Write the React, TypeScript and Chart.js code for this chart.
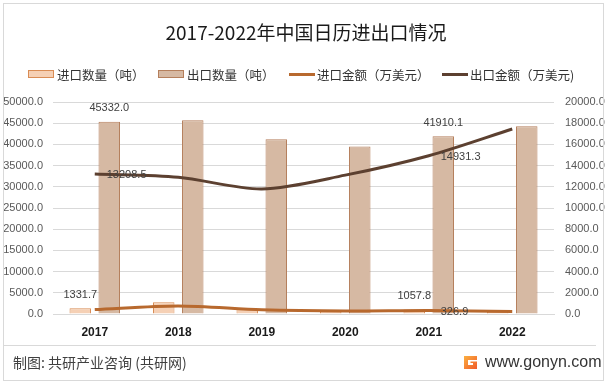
import React, { useEffect, useRef } from "react";
import { Chart, registerables } from "chart.js";

Chart.register(...registerables);

const years = ["2017", "2018", "2019", "2020", "2021", "2022"];
const importQty = [1331.7, 2750, 1150, 600, 1057.8, 450];
const exportQty = [45332.0, 45700, 41200, 39500, 41910.1, 44300];
const importAmt = [420, 760, 400, 280, 326.9, 240];
const exportAmt = [13208.5, 12900, 11800, 13100, 14931.3, 17450];

const importQtyLabelIdx = [0, 4];
const exportQtyLabelIdx = [0, 4];
const importAmtLabelIdx = [4];
const exportAmtLabelIdx = [0, 4];

const seriesNames = ["进口数量（吨）", "出口数量（吨）", "进口金额（万美元）", "出口金额（万美元)"];

const C_IMP_BAR = "#f5d0b5";
const C_IMP_BAR_B = "#d98c55";
const C_EXP_BAR = "#d6b9a3";
const C_EXP_BAR_B = "#b57f5c";
const C_IMP_LINE = "#b8692e";
const C_EXP_LINE = "#5c4030";

const LATIN = "'Liberation Sans', Arial, sans-serif";
const CJK = "'Noto Sans CJK SC', 'Noto Sans', sans-serif";

const labelPlugin = {
  id: "valueLabels",
  afterDatasetsDraw(chart: any) {
    const ctx = chart.ctx;
    ctx.save();
    ctx.font = `11px ${LATIN}`;
    ctx.fillStyle = "#404040";
    ctx.textBaseline = "middle";
    chart.data.datasets.forEach((ds: any, di: number) => {
      const meta = chart.getDatasetMeta(di);
      (ds.labelIdx || []).forEach((i: number) => {
        const el = meta.data[i];
        if (!el) return;
        const txt = Number(ds.data[i]).toFixed(1);
        if (ds.type === "bar") {
          ctx.textAlign = "center";
          ctx.fillText(txt, el.x, el.y - 13.5);
        } else {
          ctx.textAlign = "left";
          ctx.fillText(txt, el.x + 12, el.y + 1);
        }
      });
    });
    ctx.restore();
  },
};

export default function App() {
  const ref = useRef<HTMLCanvasElement | null>(null);
  useEffect(() => {
    if (!ref.current) return;
    const chart = new Chart(ref.current, {
      type: "bar",
      data: {
        labels: years,
        datasets: [
          {
            type: "bar",
            label: seriesNames[0],
            data: importQty,
            backgroundColor: C_IMP_BAR,
            borderColor: C_IMP_BAR_B,
            borderWidth: 1,
            yAxisID: "y",
            order: 2,
            categoryPercentage: 0.695,
            barPercentage: 0.74,
            labelIdx: importQtyLabelIdx,
          } as any,
          {
            type: "bar",
            label: seriesNames[1],
            data: exportQty,
            backgroundColor: C_EXP_BAR,
            borderColor: C_EXP_BAR_B,
            borderWidth: 1,
            yAxisID: "y",
            order: 2,
            categoryPercentage: 0.695,
            barPercentage: 0.74,
            labelIdx: exportQtyLabelIdx,
          } as any,
          {
            type: "line",
            label: seriesNames[2],
            data: importAmt,
            borderColor: C_IMP_LINE,
            backgroundColor: C_IMP_LINE,
            borderWidth: 3,
            pointRadius: 0,
            tension: 0.3,
            yAxisID: "y1",
            order: 1,
            labelIdx: importAmtLabelIdx,
          } as any,
          {
            type: "line",
            label: seriesNames[3],
            data: exportAmt,
            borderColor: C_EXP_LINE,
            backgroundColor: C_EXP_LINE,
            borderWidth: 3,
            pointRadius: 0,
            tension: 0.3,
            yAxisID: "y1",
            order: 1,
            labelIdx: exportAmtLabelIdx,
          } as any,
        ],
      },
      options: {
        responsive: false,
        animation: false,
        devicePixelRatio: 1,
        layout: { padding: { top: 102, left: 0, right: 0, bottom: 0 } },
        plugins: {
          legend: { display: false },
          title: { display: false },
          tooltip: { enabled: false },
        },
        scales: {
          x: {
            grid: { display: false, drawTicks: false },
            border: { display: true, color: "#d9d9d9" },
            ticks: {
              font: { size: 12, weight: "bold", family: LATIN },
              color: "#1a1a1a",
              padding: 11,
            },
            afterFit: (s: any) => {
              s.height = 72;
            },
          },
          y: {
            position: "left",
            min: 0,
            max: 50000,
            grid: { color: "#d9d9d9", drawTicks: false },
            border: { display: false },
            ticks: {
              stepSize: 5000,
              padding: 10,
              font: { size: 11, family: LATIN },
              color: "#595959",
              callback: (v: any) => Number(v).toFixed(1),
            },
            afterFit: (s: any) => {
              s.width = 53;
            },
          },
          y1: {
            position: "right",
            min: 0,
            max: 20000,
            grid: { display: false, drawTicks: false },
            border: { display: false },
            ticks: {
              stepSize: 2000,
              padding: 11,
              font: { size: 11, family: LATIN },
              color: "#595959",
              callback: (v: any) => Number(v).toFixed(1),
            },
            afterFit: (s: any) => {
              s.width = 58;
            },
          },
        } as any,
      },
      plugins: [labelPlugin],
    });
    return () => chart.destroy();
  }, []);

  const legendItems = [
    { left: 28, kind: "bar", fill: C_IMP_BAR, stroke: C_IMP_BAR_B, text: seriesNames[0] },
    { left: 158, kind: "bar", fill: C_EXP_BAR, stroke: C_EXP_BAR_B, text: seriesNames[1] },
    { left: 289, kind: "line", fill: C_IMP_LINE, stroke: C_IMP_LINE, text: seriesNames[2] },
    { left: 442, kind: "line", fill: C_EXP_LINE, stroke: C_EXP_LINE, text: seriesNames[3] },
  ];

  return (
    <div
      style={{
        position: "fixed",
        left: 0,
        top: 0,
        width: 612,
        height: 386,
        background: "#fff",
        overflow: "hidden",
      }}
    >
      <canvas
        ref={ref}
        width={612}
        height={386}
        style={{ position: "absolute", left: 0, top: 0, width: 612, height: 386 }}
      />
      <div
        style={{
          position: "absolute",
          left: 3,
          top: 3,
          width: 599,
          height: 376,
          border: "1px solid #d9d9d9",
          pointerEvents: "none",
        }}
      />
      <div
        style={{
          position: "absolute",
          left: 0,
          top: 19,
          width: 612,
          textAlign: "center",
          fontFamily: CJK,
          fontSize: 19,
          lineHeight: "26px",
          color: "#1a1a1a",
        }}
      >
        2017-2022年中国日历进出口情况
      </div>
      {legendItems.map((it, i) => (
        <div
          key={i}
          style={{
            position: "absolute",
            left: it.left,
            top: 65,
            height: 18,
            display: "flex",
            alignItems: "center",
            fontFamily: CJK,
            fontSize: 12.5,
            color: "#333",
            whiteSpace: "nowrap",
          }}
        >
          {it.kind === "bar" ? (
            <span
              style={{
                display: "inline-block",
                width: 24,
                height: 6,
                background: it.fill,
                border: `1px solid ${it.stroke}`,
                marginRight: 3,
              }}
            />
          ) : (
            <span
              style={{
                display: "inline-block",
                width: 26,
                height: 3,
                background: it.fill,
                marginRight: 2,
              }}
            />
          )}
          <span>{it.text}</span>
        </div>
      ))}
      <div
        style={{
          position: "absolute",
          left: 4,
          top: 345,
          width: 592,
          height: 1,
          background: "#d9d9d9",
        }}
      />
      <div
        style={{
          position: "absolute",
          left: 13,
          top: 352,
          fontFamily: CJK,
          fontSize: 14,
          lineHeight: "20px",
          color: "#404040",
          whiteSpace: "nowrap",
        }}
      >
        制图: 共研产业咨询 (共研网)
      </div>
      <svg
        style={{ position: "absolute", left: 463, top: 355 }}
        width={15}
        height={15}
        viewBox="0 0 15 15"
      >
        <defs>
          <linearGradient id="lg" x1="0" y1="0" x2="1" y2="1">
            <stop offset="0" stopColor="#fbb040" />
            <stop offset="1" stopColor="#f15a29" />
          </linearGradient>
        </defs>
        <path
          d="M1 1 H14 V5 H5 V10 H10 V8 H7.5 V6.5 H14 V14 H1 Z"
          fill="url(#lg)"
        />
      </svg>
      <div
        style={{
          position: "absolute",
          left: 485,
          top: 351,
          fontFamily: LATIN,
          fontSize: 16,
          lineHeight: "22px",
          color: "#333",
          whiteSpace: "nowrap",
        }}
      >
        www.gonyn.com
      </div>
    </div>
  );
}
